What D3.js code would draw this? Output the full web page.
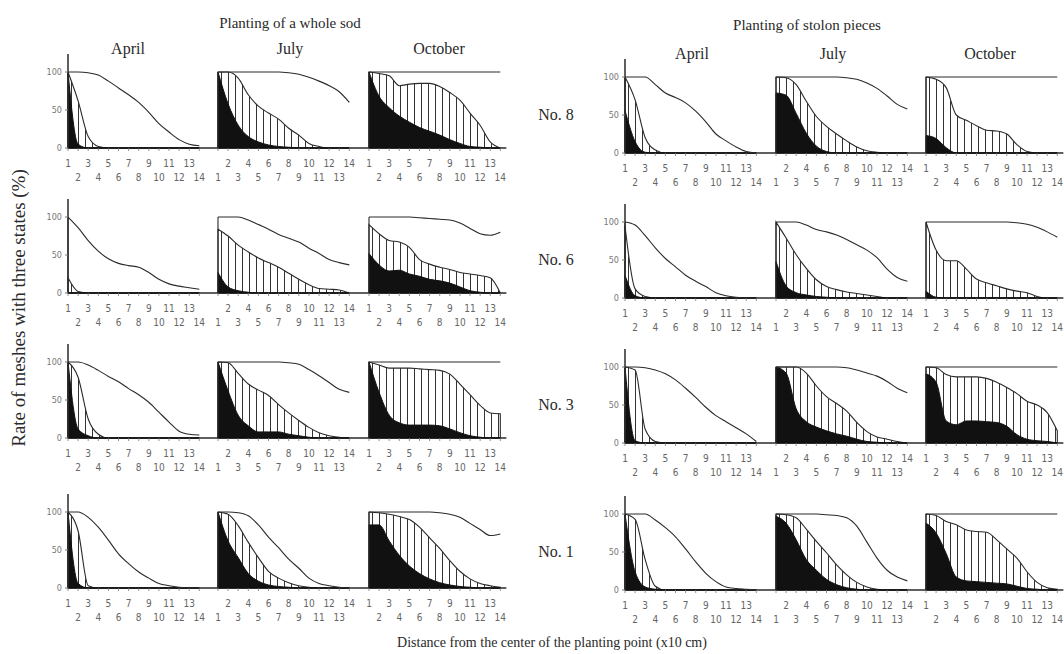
<!DOCTYPE html>
<html>
<head>
<meta charset="utf-8">
<script src="https://cdn.jsdelivr.net/npm/d3@7"></script>
<style>
  body { margin: 0; background: #fff; }
</style>
</head>
<body>
<div id="chart"></div>
<script>
// distance classes (x10 cm) and labels
const distances = [1, 2, 3, 4, 5, 6, 7, 8, 9, 10, 11, 12, 13, 14];
const months = ["April", "July", "October"];
const plots = ["No. 8", "No. 6", "No. 3", "No. 1"];
const yTicks = [0, 50, 100];

// Planting of a whole sod: [plot][month] -> % per distance
const sodTotal = [
  [[100,100,99,96,88,79,70,60,47,32,21,11,5,3],
   [100,100,100,100,100,100,100,99,97,93,88,82,74,60],
   [100,100,100,100,100,100,100,100,100,100,100,100,100,100]],
  [[100,86,69,55,45,39,36,34,27,18,12,9,7,5],
   [100,100,100,96,90,84,77,72,67,59,52,44,40,37],
   [100,100,100,100,100,99,98,97,96,92,85,78,76,80]],
  [[100,100,96,89,81,74,65,57,47,34,21,9,5,4],
   [100,100,100,100,100,100,100,99,97,90,82,73,64,60],
   [100,100,100,100,100,100,100,100,100,100,100,100,100,100]],
  [[100,100,93,80,63,45,32,21,13,6,3,1,0,0],
   [100,100,99,95,83,67,53,38,26,13,6,3,1,0],
   [100,100,100,100,100,100,100,99,97,93,85,77,69,71]]
];
const sodHatched = [
  [[100,62,15,2,0,0,0,0,0,0,0,0,0,0],
   [100,100,92,70,55,46,38,26,17,6,2,0,0,0],
   [100,98,95,82,84,85,85,81,73,63,46,30,8,0]],
  [[20,2,0,0,0,0,0,0,0,0,0,0,0,0],
   [84,75,63,54,46,40,34,26,18,11,6,5,4,0],
   [90,78,69,67,60,44,38,34,31,27,25,23,20,0]],
  [[100,80,25,5,0,0,0,0,0,0,0,0,0,0],
   [100,99,85,71,63,56,44,33,23,14,7,3,1,0],
   [100,96,92,92,92,91,90,89,84,71,57,43,33,32]],
  [[100,75,3,0,0,0,0,0,0,0,0,0,0,0],
   [100,97,82,60,40,22,13,7,3,1,0,0,0,0],
   [100,99,97,94,90,80,66,52,36,22,12,6,3,1]]
];
const sodBlack = [
  [[100,5,0,0,0,0,0,0,0,0,0,0,0,0],
   [100,58,30,15,8,4,2,1,0,0,0,0,0,0],
   [100,68,53,42,34,27,22,17,11,6,2,1,0,0]],
  [[0,0,0,0,0,0,0,0,0,0,0,0,0,0],
   [27,8,3,1,0,0,0,0,0,0,0,0,0,0],
   [52,37,29,30,25,22,18,16,13,8,3,1,0,0]],
  [[100,12,3,0,0,0,0,0,0,0,0,0,0,0],
   [100,62,30,16,8,8,8,5,3,1,0,0,0,0],
   [100,60,30,20,17,17,17,16,12,7,3,1,0,0]],
  [[100,6,0,0,0,0,0,0,0,0,0,0,0,0],
   [100,62,40,19,9,4,2,1,0,0,0,0,0,0],
   [83,83,62,43,29,19,12,7,4,2,1,0,0,0]]
];

// Planting of stolon pieces
const stolonTotal = [
  [[100,100,100,90,79,73,66,55,41,25,16,8,2,0],
   [100,100,100,100,100,100,100,99,97,92,85,75,64,58],
   [100,100,100,100,100,100,100,100,100,100,100,100,100,100]],
  [[100,96,82,66,52,41,30,22,15,7,3,1,0,0],
   [100,100,100,96,90,87,83,77,70,63,53,38,27,22],
   [100,100,100,100,100,100,100,100,100,99,97,93,87,80]],
  [[100,100,99,96,91,83,72,60,47,36,28,20,12,2],
   [100,100,100,100,100,100,100,99,96,92,88,81,72,66],
   [100,100,100,100,100,100,100,100,100,100,100,100,100,100]],
  [[100,100,100,92,82,70,54,37,22,11,4,2,1,0],
   [100,100,100,100,100,99,98,95,84,63,42,26,17,12],
   [100,100,100,100,100,100,100,100,100,100,100,100,100,100]]
];
const stolonHatched = [
  [[100,70,20,4,0,0,0,0,0,0,0,0,0,0],
   [100,99,90,68,48,35,25,16,8,3,1,0,0,0],
   [100,97,86,50,43,36,30,29,25,11,2,0,0,0]],
  [[95,12,2,0,0,0,0,0,0,0,0,0,0,0],
   [100,79,57,39,24,15,11,8,6,4,2,0,0,0],
   [100,63,49,49,38,25,20,16,12,9,7,2,0,0]],
  [[100,96,18,2,0,0,0,0,0,0,0,0,0,0],
   [100,100,100,92,75,61,52,42,27,15,8,5,2,0],
   [100,99,90,87,87,87,85,80,73,65,55,50,40,16]],
  [[100,93,40,5,0,0,0,0,0,0,0,0,0,0],
   [100,99,95,80,64,49,33,20,10,4,1,0,0,0],
   [100,98,90,86,79,77,76,66,54,42,24,10,3,1]]
];
const stolonBlack = [
  [[56,15,1,0,0,0,0,0,0,0,0,0,0,0],
   [79,76,52,26,9,2,0,0,0,0,0,0,0,0],
   [23,19,7,0,0,0,0,0,0,0,0,0,0,0]],
  [[30,3,0,0,0,0,0,0,0,0,0,0,0,0],
   [48,16,7,4,2,1,0,0,0,0,0,0,0,0],
   [9,1,0,0,0,0,0,0,0,0,0,0,0,0]],
  [[100,3,0,0,0,0,0,0,0,0,0,0,0,0],
   [100,92,45,28,21,16,12,9,5,2,1,0,0,0],
   [91,80,29,24,29,29,28,27,22,11,5,3,2,0]],
  [[100,24,4,1,0,0,0,0,0,0,0,0,0,0],
   [97,88,66,40,26,14,7,3,1,0,0,0,0,0],
   [88,75,48,17,12,11,10,9,8,5,2,1,0,0]]
];

const width = 1064, height = 654;
const panelH = 76;
const ink = "#2a2a2a";

const groups = [
  { title: "Planting of a whole sod", titleX: 290, titleY: 28,
    axes: [68, 218, 369], tops: [72, 217, 362, 512], monthDx: [60, 72, 70],
    total: sodTotal, hatched: sodHatched, black: sodBlack },
  { title: "Planting of stolon pieces", titleX: 807, titleY: 30,
    axes: [625, 776, 926], tops: [77, 222, 367, 514], monthDx: [67, 57, 64],
    total: stolonTotal, hatched: stolonHatched, black: stolonBlack }
];

const svg = d3.select("#chart").append("svg")
  .attr("width", width)
  .attr("height", height)
  .style("font-family", "'Liberation Serif', 'DejaVu Serif', serif");

// vertical hatching
svg.append("defs").append("pattern")
  .attr("id", "hatch")
  .attr("patternUnits", "userSpaceOnUse")
  .attr("width", 7)
  .attr("height", 8)
  .append("line")
  .attr("x1", 3.5).attr("x2", 3.5)
  .attr("y1", 0).attr("y2", 8)
  .attr("stroke", "#333")
  .attr("stroke-width", 1);

const x = d3.scaleLinear().domain([1, 15.85]).range([0, 150]);
const y = d3.scaleLinear().domain([0, 100]).range([panelH, 0]);

const area = d3.area()
  .x((d, i) => x(distances[i]))
  .y0(y(0))
  .y1(d => y(d))
  .curve(d3.curveMonotoneX);

const line = d3.line()
  .x((d, i) => x(distances[i]))
  .y(d => y(d))
  .curve(d3.curveMonotoneX);

groups.forEach(g => {
  svg.append("text")
    .attr("x", g.titleX).attr("y", g.titleY)
    .attr("text-anchor", "middle")
    .style("font-size", "15px").style("fill", ink)
    .text(g.title);

  months.forEach((m, mi) => {
    svg.append("text")
      .attr("x", g.axes[mi] + g.monthDx[mi]).attr("y", g.tops[0] - 18)
      .attr("text-anchor", "middle")
      .style("font-size", "16px").style("fill", ink)
      .text(m);
  });

  g.tops.forEach((top, ri) => {
    // continuous baseline across the three months
    svg.append("line")
      .attr("x1", g.axes[0]).attr("x2", g.axes[2] + x(14.6))
      .attr("y1", top + panelH).attr("y2", top + panelH)
      .attr("stroke", ink).attr("stroke-width", 1.3);

    months.forEach((m, mi) => {
      const p = svg.append("g")
        .attr("transform", `translate(${g.axes[mi]},${top})`);

      p.append("path")
        .attr("d", area(g.hatched[ri][mi]))
        .attr("fill", "url(#hatch)")
        .attr("stroke", ink).attr("stroke-width", 1.1);

      p.append("path")
        .attr("d", area(g.black[ri][mi]))
        .attr("fill", "#111")
        .attr("stroke", "#111").attr("stroke-width", 1);

      const tot = g.total[ri][mi];
      p.append("line")
        .attr("x1", x(1)).attr("x2", x(1))
        .attr("y1", y(0)).attr("y2", y(tot[0]))
        .attr("stroke", ink).attr("stroke-width", 1.1);
      p.append("path")
        .attr("d", line(tot))
        .attr("fill", "none")
        .attr("stroke", ink).attr("stroke-width", 1.1);

      // x ticks and two staggered label rows
      p.selectAll(".xt").data(distances).enter().append("line")
        .attr("x1", d => x(d)).attr("x2", d => x(d))
        .attr("y1", y(0)).attr("y2", y(0) + 3)
        .attr("stroke", "#777").attr("stroke-width", 0.8);
      p.selectAll(".xl").data(distances).enter().append("text")
        .attr("x", d => x(d))
        .attr("y", d => {
          const oddFirst = mi !== 1;
          const firstRow = (d % 2 === 1) === oddFirst;
          return y(0) + (firstRow ? 19 : 33);
        })
        .attr("text-anchor", "middle")
        .style("font-family", "'Liberation Sans Narrow', 'DejaVu Sans Condensed', sans-serif")
        .style("font-size", "10px").style("fill", "#666")
        .text(d => d);

      if (mi === 0) {
        p.append("line")
          .attr("x1", 0).attr("x2", 0)
          .attr("y1", y(100) - 18).attr("y2", y(0))
          .attr("stroke", ink).attr("stroke-width", 1.5);
        p.selectAll(".yt").data(yTicks).enter().append("line")
          .attr("x1", -3).attr("x2", 0)
          .attr("y1", d => y(d)).attr("y2", d => y(d))
          .attr("stroke", "#777");
        p.selectAll(".yl").data(yTicks).enter().append("text")
          .attr("x", -6).attr("y", d => y(d) + 3)
          .attr("text-anchor", "end")
          .style("font-family", "'Liberation Sans Narrow', 'DejaVu Sans Condensed', sans-serif")
          .style("font-size", "9px").style("fill", "#777")
          .text(d => d);
      }
    });
  });
});

// plot number labels between the two groups
plots.forEach((name, ri) => {
  svg.append("text")
    .attr("x", 556).attr("y", groups[1].tops[ri] + panelH / 2 + 5)
    .attr("text-anchor", "middle")
    .style("font-size", "16px").style("fill", ink)
    .text(name);
});

svg.append("text")
  .attr("transform", "translate(25,308) rotate(-90)")
  .attr("text-anchor", "middle")
  .style("font-size", "19px").style("fill", ink)
  .text("Rate of meshes with three states  (%)");

svg.append("text")
  .attr("x", 552).attr("y", 647)
  .attr("text-anchor", "middle")
  .style("font-size", "14px").style("fill", ink)
  .text("Distance from the center of the planting point  (x10 cm)");
</script>
</body>
</html>
